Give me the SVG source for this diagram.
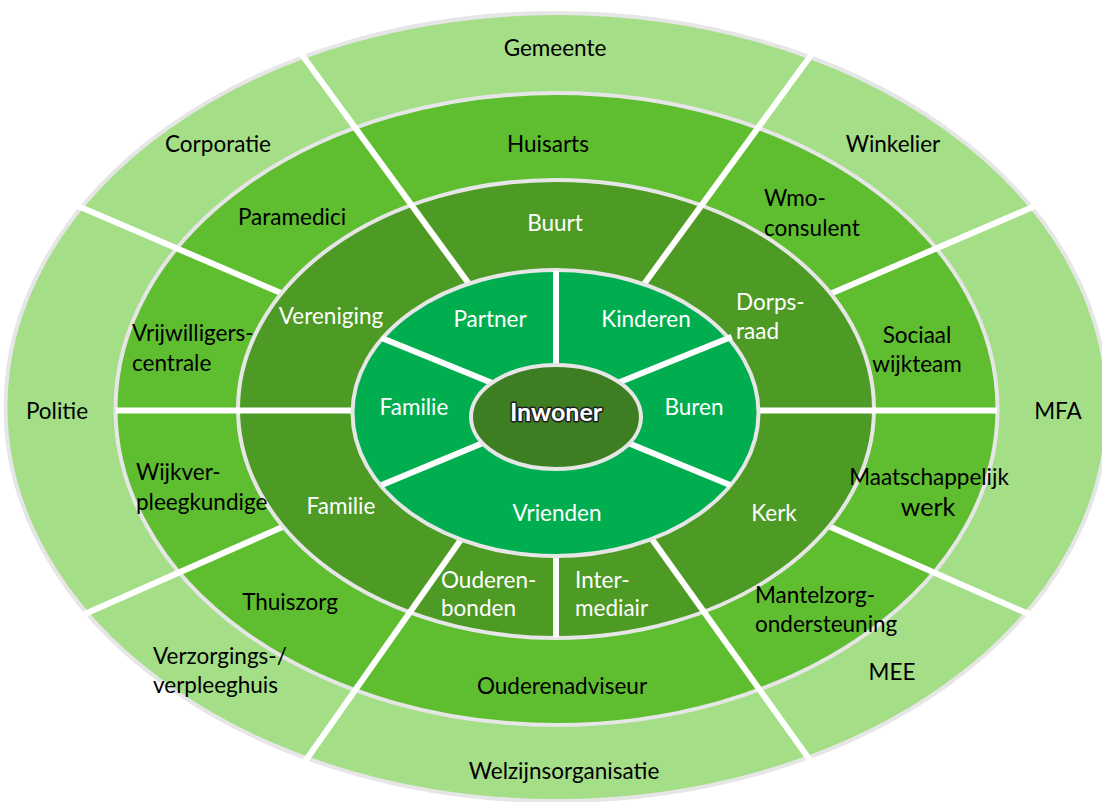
<svg xmlns="http://www.w3.org/2000/svg" width="1102" height="802" viewBox="0 0 1102 802">
<style>
.ring{stroke:#e6e6e6;stroke-width:4}
.r1{fill:#a4de87}
.r2{fill:#5fbd30}
.r3{fill:#4d9a25}
.r4{fill:#00ae50}
.r5{fill:#3e7e22}
.sep{stroke:#ffffff;stroke-width:6;stroke-linecap:butt;fill:none}
text{font-family:Lato,"Liberation Sans",sans-serif;font-size:22.5px}
.dk{fill:#000000}
.lt{fill:#ffffff}
.c{text-anchor:middle}
.inw{font-weight:bold;font-size:25px;fill:#ffffff;stroke:#1e1e1e;stroke-width:3;paint-order:stroke;stroke-linejoin:round;text-anchor:middle}
</style>
<rect width="1102" height="802" fill="#ffffff"/>
<g id="ring-outer">
<ellipse class="ring r1" cx="556.5" cy="407" rx="551" ry="394"/>
</g>
<g id="ring-2">
<ellipse class="ring r2" cx="556.5" cy="409" rx="441" ry="316"/>
</g>
<g id="separators-12">
<line class="sep" x1="62.8" y1="199.5" x2="300.8" y2="301.5"/>
<line class="sep" x1="1050.4" y1="199.5" x2="812.4" y2="301.5"/>
<line class="sep" x1="62.6" y1="623.8" x2="303" y2="517.9"/>
<line class="sep" x1="1050.6" y1="623.8" x2="810.2" y2="517.9"/>
</g>
<g id="ring-3">
<ellipse class="ring r3" cx="556" cy="409" rx="318" ry="229"/>
</g>
<g id="separators-123">
<line class="sep" x1="289.9" y1="38.3" x2="479.8" y2="298.7"/>
<line class="sep" x1="823.3" y1="38.3" x2="633.4" y2="298.7"/>
<line class="sep" x1="288.5" y1="785" x2="474" y2="521"/>
<line class="sep" x1="827.7" y1="785" x2="639" y2="521"/>
<line class="sep" x1="116" y1="410.5" x2="380" y2="410.5"/>
<line class="sep" x1="730" y1="410.5" x2="997" y2="410.5"/>
<line class="sep" x1="556" y1="637" x2="556" y2="540"/>
</g>
<g id="ring-4">
<ellipse class="ring r4" cx="555.5" cy="413" rx="203" ry="143"/>
</g>
<g id="separators-4">
<line class="sep" x1="556" y1="271" x2="556" y2="400"/>
<line class="sep" x1="381.7" y1="338" x2="529" y2="398"/>
<line class="sep" x1="731.7" y1="336.7" x2="583.6" y2="396.7"/>
<line class="sep" x1="381.7" y1="485" x2="526" y2="425"/>
<line class="sep" x1="730" y1="485" x2="584.5" y2="425"/>
</g>
<g id="center">
<ellipse class="ring r5" cx="556" cy="417" rx="85" ry="52"/>
<text class="inw" x="556" y="421">Inwoner</text>
</g>
<g id="labels-outer" class="dk" transform="translate(0,1.5)">
<text id="gemeente" class="c" x="555" y="54">Gemeente</text>
<text id="corporatie" class="c" x="218" y="150">Corporatie</text>
<text id="winkelier" class="c" x="893" y="150">Winkelier</text>
<text id="politie" class="c" x="57" y="417">Politie</text>
<text id="mfa" class="c" x="1058" y="417">MFA</text>
<text id="verzorgingshuis" x="153" y="662">Verzorgings-/<tspan x="153" y="691">verpleeghuis</tspan></text>
<text id="mee" class="c" x="892" y="678">MEE</text>
<text id="welzijn" class="c" x="564" y="777">Welzijnsorganisatie</text>
</g>
<g id="labels-ring2" class="dk" transform="translate(0,1.5)">
<text id="huisarts" class="c" x="548" y="150">Huisarts</text>
<text id="paramedici" class="c" x="292" y="223">Paramedici</text>
<text id="wmo" x="764" y="204">Wmo-<tspan x="764" y="234">consulent</tspan></text>
<text id="vrijwilligers" x="132" y="339">Vrijwilligers-<tspan x="132" y="369">centrale</tspan></text>
<text id="sociaal" class="c" x="917" y="341">Sociaal<tspan x="917" y="370">wijkteam</tspan></text>
<text id="wijkver" x="136" y="478">Wijkver-<tspan x="136" y="508">pleegkundige</tspan></text>
<text id="thuiszorg" class="c" x="290" y="608">Thuiszorg</text>
<text id="ouderenadviseur" class="c" x="562" y="692">Ouderenadviseur</text>
<text id="mantelzorg" x="755" y="601">Mantelzorg-<tspan x="755" y="630">ondersteuning</tspan></text>
<text id="maatschappelijk" class="c" x="929" y="483">Maatschappelijk<tspan x="928" y="514" style="font-size:25px">werk</tspan></text>
</g>
<g id="labels-ring3" class="lt" transform="translate(0,1.5)">
<text id="buurt" class="c" x="555" y="229">Buurt</text>
<text id="vereniging" class="c" x="331" y="322">Vereniging</text>
<text id="dorpsraad" x="736" y="308">Dorps-<tspan x="736" y="337">raad</tspan></text>
<text id="familie3" class="c" x="341" y="512">Familie</text>
<text id="kerk" class="c" x="774" y="519">Kerk</text>
<text id="ouderenbonden" x="441" y="586">Ouderen-<tspan x="441" y="614">bonden</tspan></text>
<text id="intermediair" x="575" y="586">Inter-<tspan x="575" y="614">mediair</tspan></text>
</g>
<g id="labels-ring4" class="lt" transform="translate(0,1.5)">
<text id="partner" class="c" x="490" y="325">Partner</text>
<text id="kinderen" class="c" x="646" y="325">Kinderen</text>
<text id="familie4" class="c" x="414" y="413">Familie</text>
<text id="buren" class="c" x="694" y="413">Buren</text>
<text id="vrienden" class="c" x="557" y="519">Vrienden</text>
</g>
</svg>
